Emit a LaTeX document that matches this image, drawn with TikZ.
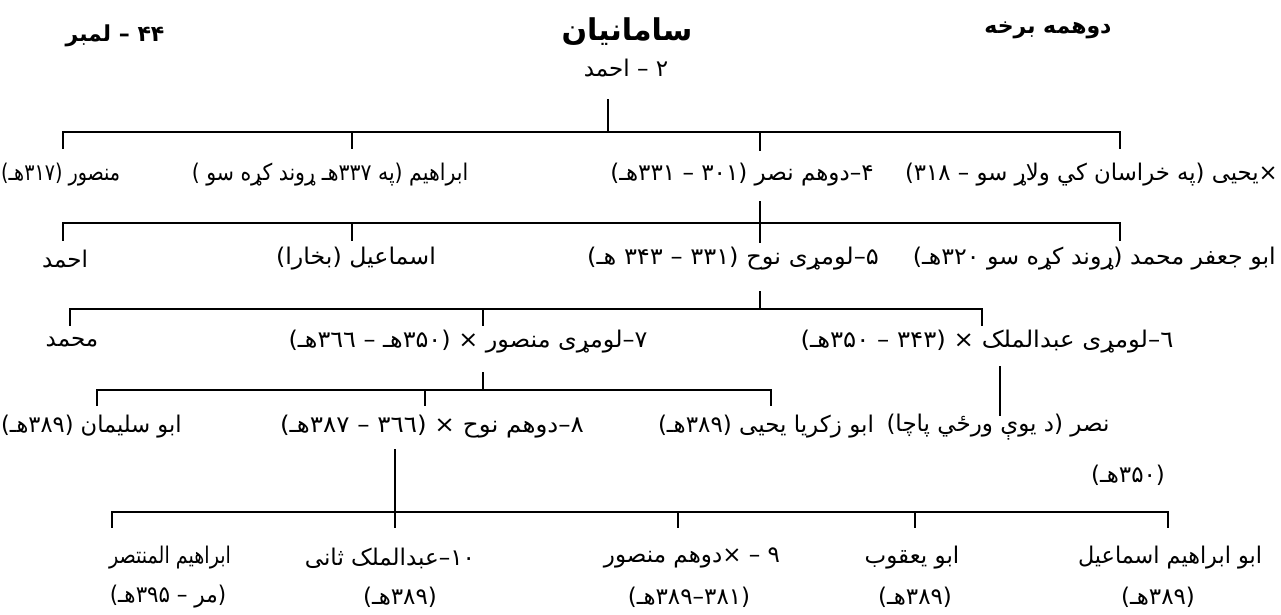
\documentclass[tikz,border=0pt]{standalone}
\usepackage{fontspec}
\usepackage{graphicx}
\TeXXeTstate=1
\newfontfamily\arabicfont[Script=Arabic]{DejaVu Sans}
\newcommand\artxt{\arabicfont\fontsize{23}{26}\selectfont}
\newcommand\arhead{\arabicfont\bfseries\fontsize{22}{25}\selectfont}
\newcommand\artitle{\arabicfont\bfseries\fontsize{30}{34}\selectfont}
\newcommand\xs[2]{\scalebox{#1}[1]{#2}}
\tikzset{
  lbl/.style={font=\artxt, inner sep=0pt, anchor=center},
  hdr/.style={font=\arhead, inner sep=0pt, anchor=center},
  ttl/.style={font=\artitle, inner sep=0pt, anchor=center},
  ln/.style={line width=1.4pt, line cap=rect},
}
\begin{document}
\begin{tikzpicture}[x=1pt,y=-1pt]
\useasboundingbox[fill=white] (0,0) rectangle (1281,615);
% headers
\node[hdr] (h1) at (115,36) {\beginR ۴۴ – لمبر\endR};
\node[ttl] (h2) at (627,32) {\beginR سامانیان\endR};
\node[hdr] (h3) at (1048,30) {\beginR دوهمه برخه\endR};
\node[lbl] (root) at (626,68) {\beginR ۲ – احمد\endR};
% row 1
\node[lbl,anchor=west] (a1) at (1,175) {\xs{0.83}{\beginR منصور (۳۱۷هـ)\endR}};
\node[lbl] (a2) at (330,175) {\xs{0.89}{\beginR ابراهیم (په ۳۳۷هـ ړوند کړه سو )\endR}};
\node[lbl] (a3) at (742,175) {\beginR ۴–دوهم نصر (۳۰۱ – ۳۳۱هـ)\endR};
\node[lbl,anchor=east] (a4) at (1278,175) {\xs{0.99}{\beginR ×یحیی (په خراسان کي ولاړ سو – ۳۱۸)\endR}};
% row 2
\node[lbl] (b1) at (65,259) {\beginR احمد\endR};
\node[lbl] (b2) at (356,259) {\xs{1.03}{\beginR اسماعیل (بخارا)\endR}};
\node[lbl] (b3) at (733,259) {\xs{1.05}{\beginR ۵–لومړی نوح (۳۳۱ – ۳۴۳ هـ)\endR}};
\node[lbl,anchor=east] (b4) at (1276,259) {\xs{1.03}{\beginR ابو جعفر محمد (ړوند کړه سو ۳۲۰هـ)\endR}};
% row 3
\node[lbl] (c1) at (72,342) {\beginR محمد\endR};
\node[lbl] (c2) at (468,342) {\xs{1.04}{\beginR ۷–لومړی منصور × (۳۵۰هـ – ۳٦٦هـ)\endR}};
\node[lbl] (c3) at (987,342) {\xs{1.06}{\beginR ٦–لومړی عبدالملک × (۳۴۳ – ۳۵۰هـ)\endR}};
% row 4
\node[lbl,anchor=west] (d1) at (1,427) {\xs{0.98}{\beginR ابو سلیمان (۳۸۹هـ)\endR}};
\node[lbl] (d2) at (432,427) {\xs{1.07}{\beginR ۸–دوهم نوح × (۳٦٦ – ۳۸۷هـ)\endR}};
\node[lbl] (d3) at (766,427) {\beginR ابو زکریا یحیی (۳۸۹هـ)\endR};
\node[lbl] (d4) at (998,427) {\beginR نصر (د یوې ورځي پاچا)\endR};
\node[lbl] (d4b) at (1128,475) {\beginR (۳۵۰هـ)\endR};
% row 5
\node[lbl] (e1) at (170,558) {\xs{0.83}{\beginR ابراهیم المنتصر\endR}};
\node[lbl] (e1b) at (168,597) {\xs{0.93}{\beginR (مر – ۳۹۵هـ)\endR}};
\node[lbl] (e2) at (390,558) {\beginR ۱۰–عبدالملک ثانی\endR};
\node[lbl] (e2b) at (400,597) {\beginR (۳۸۹هـ)\endR};
\node[lbl] (e3) at (692,558) {\beginR ۹ – ×دوهم منصور\endR};
\node[lbl] (e3b) at (689,597) {\beginR (۳۸۱–۳۸۹هـ)\endR};
\node[lbl] (e4) at (912,558) {\beginR ابو یعقوب\endR};
\node[lbl] (e4b) at (915,597) {\beginR (۳۸۹هـ)\endR};
\node[lbl] (e5) at (1170,558) {\xs{0.97}{\beginR ابو ابراهیم اسماعیل\endR}};
\node[lbl] (e5b) at (1158,597) {\beginR (۳۸۹هـ)\endR};
% junction coordinates
\coordinate (r0) at (608,100);
\coordinate (r1) at (608,132);
\coordinate (k1a) at (63,132);   \coordinate (k1a') at (63,148);
\coordinate (k1b) at (352,132);  \coordinate (k1b') at (352,148);
\coordinate (k1c) at (760,132);  \coordinate (k1c') at (760,150);
\coordinate (k1d) at (1120,132); \coordinate (k1d') at (1120,148);
\coordinate (s2) at (760,202);
\coordinate (k2a) at (63,223);   \coordinate (k2a') at (63,240);
\coordinate (k2b) at (352,223);  \coordinate (k2b') at (352,240);
\coordinate (k2c) at (760,223);  \coordinate (k2c') at (760,242);
\coordinate (k2d) at (1120,223); \coordinate (k2d') at (1120,240);
\coordinate (s3) at (760,292);   \coordinate (k3c) at (760,309);
\coordinate (k3a) at (70,309);   \coordinate (k3a') at (70,325);
\coordinate (k3b) at (483,309);  \coordinate (k3b') at (483,325);
\coordinate (k3d) at (982,309);  \coordinate (k3d') at (982,325);
\coordinate (s4) at (483,373);   \coordinate (k4p) at (483,390);
\coordinate (k4a) at (97,390);   \coordinate (k4a') at (97,405);
\coordinate (k4b) at (425,390);  \coordinate (k4b') at (425,405);
\coordinate (k4c) at (771,390);  \coordinate (k4c') at (771,405);
\coordinate (s6) at (1000,367);  \coordinate (s6') at (1000,415);
\coordinate (s5) at (395,450);   \coordinate (k5b) at (395,512); \coordinate (k5b') at (395,527);
\coordinate (k5a) at (112,512);  \coordinate (k5a') at (112,527);
\coordinate (k5c) at (678,512);  \coordinate (k5c') at (678,527);
\coordinate (k5d) at (915,512);  \coordinate (k5d') at (915,527);
\coordinate (k5e) at (1168,512); \coordinate (k5e') at (1168,527);
% connectors
\draw[ln] (r0) -- (r1);
\draw[ln] (k1a') -- (k1a) -- (k1d) -- (k1d');
\draw[ln] (k1b) -- (k1b');
\draw[ln] (k1c) -- (k1c');
\draw[ln] (s2) -- (k2c');
\draw[ln] (k2a') -- (k2a) -- (k2d) -- (k2d');
\draw[ln] (k2b) -- (k2b');
\draw[ln] (s3) -- (k3c);
\draw[ln] (k3a') -- (k3a) -- (k3d) -- (k3d');
\draw[ln] (k3b) -- (k3b');
\draw[ln] (s4) -- (k4p);
\draw[ln] (k4a') -- (k4a) -- (k4c) -- (k4c');
\draw[ln] (k4b) -- (k4b');
\draw[ln] (s6) -- (s6');
\draw[ln] (s5) -- (k5b');
\draw[ln] (k5a') -- (k5a) -- (k5e) -- (k5e');
\draw[ln] (k5c) -- (k5c');
\draw[ln] (k5d) -- (k5d');
\end{tikzpicture}
\end{document}
